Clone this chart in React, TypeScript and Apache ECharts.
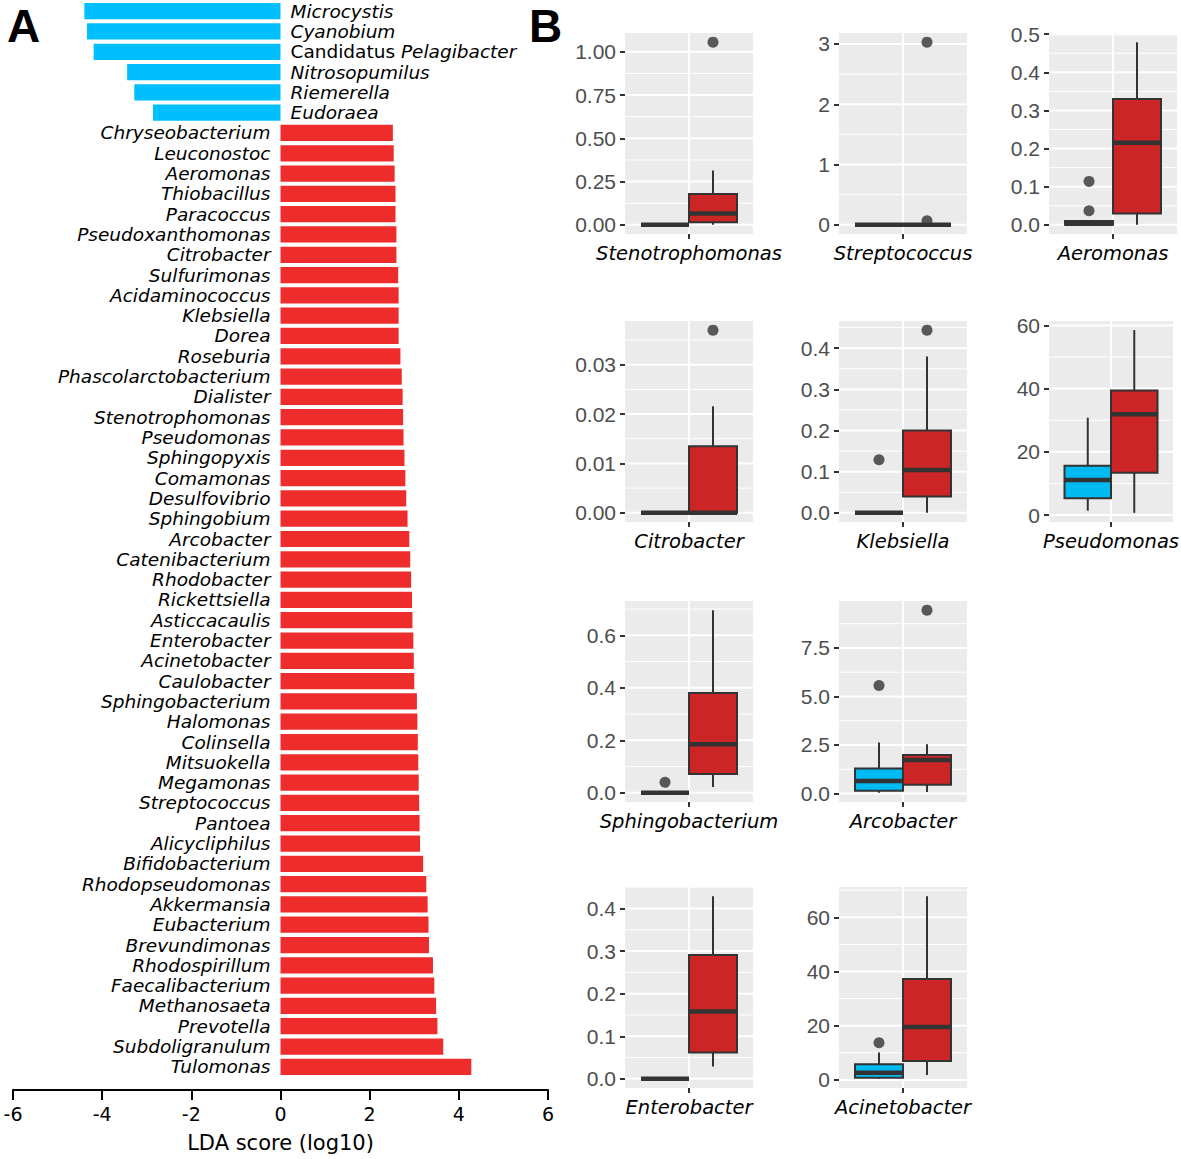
import React, { useEffect, useRef } from 'react';
import * as echarts from 'echarts';

// ---------- Panel A data ----------
const ldaGenera = [
  'Microcystis', 'Cyanobium', 'Candidatus Pelagibacter', 'Nitrosopumilus', 'Riemerella', 'Eudoraea',
  'Chryseobacterium', 'Leuconostoc', 'Aeromonas', 'Thiobacillus', 'Paracoccus', 'Pseudoxanthomonas',
  'Citrobacter', 'Sulfurimonas', 'Acidaminococcus', 'Klebsiella', 'Dorea', 'Roseburia',
  'Phascolarctobacterium', 'Dialister', 'Stenotrophomonas', 'Pseudomonas', 'Sphingopyxis', 'Comamonas',
  'Desulfovibrio', 'Sphingobium', 'Arcobacter', 'Catenibacterium', 'Rhodobacter', 'Rickettsiella',
  'Asticcacaulis', 'Enterobacter', 'Acinetobacter', 'Caulobacter', 'Sphingobacterium', 'Halomonas',
  'Colinsella', 'Mitsuokella', 'Megamonas', 'Streptococcus', 'Pantoea', 'Alicycliphilus',
  'Bifidobacterium', 'Rhodopseudomonas', 'Akkermansia', 'Eubacterium', 'Brevundimonas', 'Rhodospirillum',
  'Faecalibacterium', 'Methanosaeta', 'Prevotella', 'Subdoligranulum', 'Tulomonas',
];
const ldaScores = [
  -4.40, -4.34, -4.19, -3.44, -3.28, -2.86,
  2.52, 2.54, 2.56, 2.58, 2.58, 2.60,
  2.60, 2.64, 2.65, 2.65, 2.65, 2.69,
  2.72, 2.74, 2.75, 2.76, 2.78, 2.80,
  2.82, 2.85, 2.89, 2.91, 2.93, 2.95,
  2.96, 2.98, 2.99, 3.00, 3.06, 3.07,
  3.08, 3.09, 3.10, 3.11, 3.12, 3.13,
  3.20, 3.27, 3.30, 3.32, 3.33, 3.42,
  3.45, 3.49, 3.52, 3.65, 4.28,
];
const ldaTicks = [-6, -4, -2, 0, 2, 4, 6];

// ---------- Panel B data ----------
const boxGenera = [
  'Stenotrophomonas', 'Streptococcus', 'Aeromonas',
  'Citrobacter', 'Klebsiella', 'Pseudomonas',
  'Sphingobacterium', 'Arcobacter',
  'Enterobacter', 'Acinetobacter',
];
// [min, q1, median, q3, max]
const blueStats = [
  [0, 0, 0, 0, 0],
  [0, 0, 0, 0, 0],
  [0, 0, 0.003, 0.01, 0.013],
  [0, 0, 0, 0, 0],
  [0, 0, 0, 0, 0],
  [1.4, 5.3, 11.1, 15.6, 30.8],
  [0, 0, 0, 0, 0],
  [0.03, 0.14, 0.64, 1.28, 2.63],
  [0, 0, 0, 0, 0],
  [0.4, 0.8, 2.7, 5.8, 10.1],
];
const redStats = [
  [0, 0.015, 0.065, 0.178, 0.314],
  [0, 0, 0, 0, 0],
  [0, 0.03, 0.215, 0.33, 0.479],
  [0, 0, 0, 0.0135, 0.0216],
  [0, 0.04, 0.104, 0.2, 0.38],
  [0.7, 13.4, 31.9, 39.4, 58.5],
  [0.022, 0.0715, 0.185, 0.38, 0.696],
  [0.07, 0.45, 1.72, 1.98, 2.53],
  [0.029, 0.062, 0.158, 0.291, 0.429],
  [1.85, 7.0, 19.5, 37.2, 67.8],
];
const blueOutliers = [[], [], [0.114, 0.037], [], [0.129], [], [0.04], [5.56], [], [13.7]];
const redOutliers = [[1.056], [3.03, 0.07], [], [0.037], [0.444], [], [], [9.45], [], []];
const yTicks = [
  [0, 0.25, 0.5, 0.75, 1.0],
  [0, 1, 2, 3],
  [0, 0.1, 0.2, 0.3, 0.4, 0.5],
  [0, 0.01, 0.02, 0.03],
  [0, 0.1, 0.2, 0.3, 0.4],
  [0, 20, 40, 60],
  [0, 0.2, 0.4, 0.6],
  [0, 2.5, 5.0, 7.5],
  [0, 0.1, 0.2, 0.3, 0.4],
  [0, 20, 40, 60],
];
const tickDecimals = [2, 0, 1, 2, 1, 0, 1, 1, 1, 0];
const panelRow = [0, 0, 0, 1, 1, 1, 2, 2, 3, 3];
const panelCol = [0, 1, 2, 0, 1, 2, 0, 1, 0, 1];

// ---------- layout / style ----------
const rowTop = [33, 321, 601, 887];
const panelH = 201;
const colLeft = [625, 839, 1049];
const panelW = 128;
const DODGE = 0.45;
const HALF = 0.225;
const groupColors = ['#00BBF2', '#CC2525'];
const barBlue = '#00BFFF';
const barRed = '#EE2C2C';
const DARK = '#333333';

function groupCenter(g: number) {
  return 1 + (g - 0.5) * DODGE;
}

export default function App() {
  const ref = useRef<HTMLDivElement>(null);

  useEffect(() => {
    if (!ref.current) return;
    const chart = echarts.init(ref.current, undefined, { renderer: 'svg' });

    const grids: any[] = [{ left: 13, top: 1, width: 535, height: 1076 }];
    const xAxes: any[] = [{
      gridIndex: 0, type: 'value', min: -6, max: 6, interval: 2, position: 'bottom', offset: 13,
      axisLine: { show: true, onZero: false, lineStyle: { color: '#000', width: 2 } },
      axisTick: { show: true, length: 10, lineStyle: { color: '#000', width: 2 } },
      axisLabel: { fontSize: 19, color: '#000', fontFamily: 'DejaVu Sans', margin: 14,
        customValues: ldaTicks },
      splitLine: { show: false },
      name: 'LDA score (log10)', nameLocation: 'middle', nameGap: 42,
      nameTextStyle: { fontSize: 21, color: '#000', fontFamily: 'DejaVu Sans' },
    }];
    const yAxes: any[] = [{
      gridIndex: 0, type: 'category', inverse: true, data: ldaGenera,
      axisLine: { show: false }, axisTick: { show: false }, axisLabel: { show: false },
      splitLine: { show: false },
    }];
    const series: any[] = [{
      type: 'bar', xAxisIndex: 0, yAxisIndex: 0, barCategoryGap: '20%',
      data: ldaScores.map((v, i) => ({
        value: v,
        name: ldaGenera[i],
        itemStyle: { color: v < 0 ? barBlue : barRed },
        label: { position: v < 0 ? 'right' : 'left' },
      })),
      label: {
        show: true, distance: 10,
        formatter: (p: any) => p.name === 'Candidatus Pelagibacter'
          ? '{n|Candidatus }{i|Pelagibacter}'
          : '{i|' + p.name + '}',
        rich: {
          i: { fontStyle: 'italic', fontSize: 18.5, fontFamily: 'DejaVu Sans', color: '#000' },
          n: { fontStyle: 'normal', fontSize: 18.5, fontFamily: 'DejaVu Sans', color: '#000' },
        },
      },
    }];

    boxGenera.forEach((name, i) => {
      const gi = i + 1;
      const all = [...blueStats[i], ...redStats[i], ...blueOutliers[i], ...redOutliers[i]];
      const dmin = Math.min(...all);
      const dmax = Math.max(...all);
      const pad = (dmax - dmin) * 0.05;
      const lo = dmin - pad;
      const hi = dmax + pad;
      const majors = yTicks[i];
      const step = majors[1] - majors[0];
      const minors: number[] = [];
      for (let k = -1; k <= majors.length; k++) {
        const v = majors[0] + (k + 0.5) * step;
        if (v > lo && v < hi) minors.push(v);
      }
      const dec = tickDecimals[i];

      grids.push({
        left: colLeft[panelCol[i]], top: rowTop[panelRow[i]], width: panelW, height: panelH,
        show: true, backgroundColor: '#EBEBEB', borderWidth: 0,
      });
      xAxes.push({
        gridIndex: gi, type: 'value', min: 0.4, max: 1.6,
        axisLine: { show: false }, axisTick: { show: false }, axisLabel: { show: false },
        splitLine: { show: false },
        name, nameLocation: 'middle', nameGap: 9,
        nameTextStyle: { fontSize: 19.5, fontStyle: 'italic', fontFamily: 'DejaVu Sans', color: '#000',
          verticalAlign: 'top' },
      });
      yAxes.push({
        gridIndex: gi, type: 'value', min: lo, max: hi,
        axisLine: { show: false },
        axisTick: { show: true, length: 5, customValues: majors, lineStyle: { color: DARK, width: 2 } },
        axisLabel: { show: true, customValues: majors, margin: 9, fontSize: 21, color: '#4D4D4D',
          fontFamily: 'Liberation Sans', formatter: (v: number) => Number(v).toFixed(dec) },
        splitLine: { show: false },
      });
      series.push({
        type: 'custom', xAxisIndex: gi, yAxisIndex: gi, silent: true, z: 1,
        data: [[1, 0]],
        renderItem: (params: any, api: any) => {
          const cs = params.coordSys;
          const children: any[] = [];
          minors.forEach((v) => {
            const y = api.coord([1, v])[1];
            children.push({ type: 'line', shape: { x1: cs.x, y1: y, x2: cs.x + cs.width, y2: y },
              style: { stroke: '#FFFFFF', lineWidth: 1 } });
          });
          majors.forEach((v) => {
            const y = api.coord([1, v])[1];
            children.push({ type: 'line', shape: { x1: cs.x, y1: y, x2: cs.x + cs.width, y2: y },
              style: { stroke: '#FFFFFF', lineWidth: 2 } });
          });
          const xc = api.coord([1, 0])[0];
          children.push({ type: 'line', shape: { x1: xc, y1: cs.y, x2: xc, y2: cs.y + cs.height },
            style: { stroke: '#FFFFFF', lineWidth: 2 } });
          children.push({ type: 'line', shape: { x1: xc, y1: cs.y + cs.height, x2: xc, y2: cs.y + cs.height + 5 },
            style: { stroke: DARK, lineWidth: 2 } });
          return { type: 'group', children };
        },
      });
      series.push({
        type: 'custom', xAxisIndex: gi, yAxisIndex: gi, silent: true, z: 3,
        data: [[0, ...blueStats[i]], [1, ...redStats[i]]],
        renderItem: (params: any, api: any) => {
          const g = api.value(0);
          const xc = groupCenter(g);
          const left = api.coord([xc - HALF, 0])[0];
          const right = api.coord([xc + HALF, 0])[0];
          const cx = api.coord([xc, 0])[0];
          const yMin = api.coord([xc, api.value(1)])[1];
          const yQ1 = api.coord([xc, api.value(2)])[1];
          const yMed = api.coord([xc, api.value(3)])[1];
          const yQ3 = api.coord([xc, api.value(4)])[1];
          const yMax = api.coord([xc, api.value(5)])[1];
          const ls = { stroke: DARK, lineWidth: 2 };
          return {
            type: 'group',
            children: [
              { type: 'line', shape: { x1: cx, y1: yQ3, x2: cx, y2: yMax }, style: ls },
              { type: 'line', shape: { x1: cx, y1: yQ1, x2: cx, y2: yMin }, style: ls },
              { type: 'rect', shape: { x: left, y: yQ3, width: right - left, height: yQ1 - yQ3 },
                style: { fill: groupColors[g], stroke: DARK, lineWidth: 2 } },
              { type: 'line', shape: { x1: left, y1: yMed, x2: right, y2: yMed },
                style: { stroke: DARK, lineWidth: 4.5 } },
            ],
          };
        },
      });
      const outs: number[][] = [];
      blueOutliers[i].forEach((v) => outs.push([groupCenter(0), v]));
      redOutliers[i].forEach((v) => outs.push([groupCenter(1), v]));
      series.push({
        type: 'scatter', xAxisIndex: gi, yAxisIndex: gi, silent: true, z: 4,
        symbolSize: 11, itemStyle: { color: DARK }, data: outs,
      });
    });

    chart.setOption({
      animation: false,
      backgroundColor: '#FFFFFF',
      grid: grids,
      xAxis: xAxes,
      yAxis: yAxes,
      series,
      graphic: [
        { type: 'text', left: 7, top: 3,
          style: { text: 'A', fontSize: 46, fontWeight: 'bold', fontFamily: 'Liberation Sans', fill: '#000' } },
        { type: 'text', left: 529, top: 3,
          style: { text: 'B', fontSize: 46, fontWeight: 'bold', fontFamily: 'Liberation Sans', fill: '#000' } },
      ],
    });
    return () => chart.dispose();
  }, []);

  return (
    <div
      ref={ref}
      style={{ position: 'fixed', left: 0, top: 0, width: 1181, height: 1159, background: '#fff' }}
    />
  );
}
